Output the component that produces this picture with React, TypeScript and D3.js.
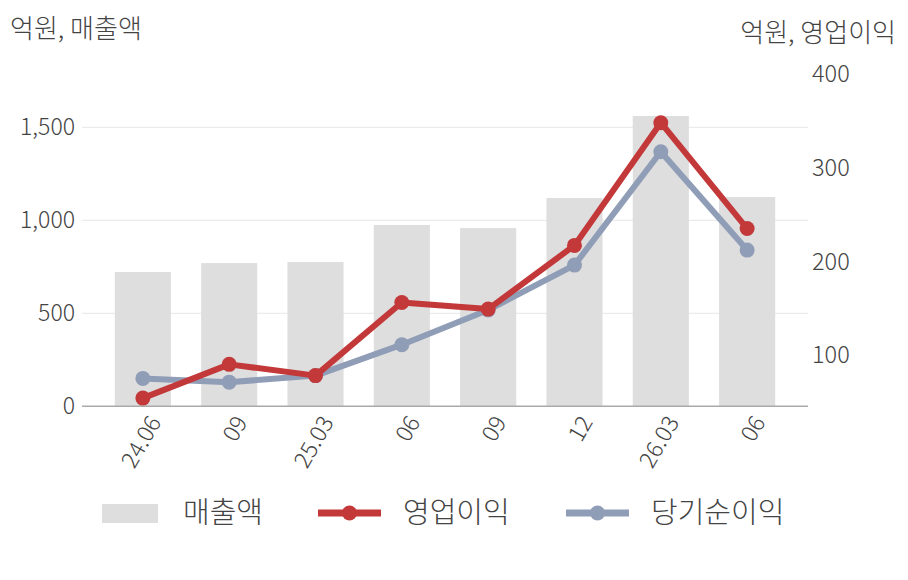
import React from 'react';
import * as d3 from 'd3';

const categories = ['24.06', '09', '25.03', '06', '09', '12', '26.03', '06'];
const sales = [722, 770, 776, 975, 958, 1120, 1561, 1125];
const operatingProfit = [54, 90, 78, 156, 149, 217, 348, 235];
const netProfit = [75, 71, 78, 111, 148, 196, 317, 212];
const leftTicks = [0, 500, 1000, 1500];
const rightTicks = [100, 200, 300, 400];

const FONT = "'Noto Sans CJK KR', 'Noto Sans', sans-serif";
const TEXT = '#444';
const RED = '#c3393a';
const BLUE = '#909db7';
const BAR = '#dedede';

export default function App() {
  const left = 82;
  const right = 808;

  const x = d3.scaleBand<number>()
    .domain(d3.range(categories.length))
    .range([left, right])
    .paddingInner(0.35)
    .paddingOuter(0.38);

  const yLeft = d3.scaleLinear().domain([0, 1500]).range([406.3, 127.3]);
  const yRight = d3.scaleLinear().domain([100, 400]).range([355, 74]);

  const cx = (i: number) => (x(i) ?? 0) + x.bandwidth() / 2;

  const line = d3.line<number>()
    .x((_, i) => cx(i))
    .y(d => yRight(d));

  const series = [
    { name: '당기순이익', values: netProfit, color: BLUE },
    { name: '영업이익', values: operatingProfit, color: RED }
  ];

  return (
    <svg width={908} height={580} style={{ position: 'absolute', left: 0, top: 0, fontFamily: FONT, fontWeight: 300 }}>
      {/* axis titles */}
      <text x={10} y={38} fontSize={26} fill={TEXT}>억원, 매출액</text>
      <text x={896} y={42} fontSize={26} fill={TEXT} textAnchor="end">억원, 영업이익</text>

      {/* gridlines */}
      {leftTicks.filter(t => t > 0).map(t => (
        <line key={t} x1={left} x2={right} y1={yLeft(t)} y2={yLeft(t)} stroke="#e6e6e6" strokeWidth={1} />
      ))}

      {/* left ticks */}
      {leftTicks.map(t => (
        <text key={t} x={75} y={yLeft(t)} dy="0.35em" fontSize={23} fill={TEXT} textAnchor="end">
          {d3.format(',')(t)}
        </text>
      ))}

      {/* right ticks */}
      {rightTicks.map(t => (
        <text key={t} x={812} y={yRight(t)} dy="0.35em" fontSize={23.5} fill={TEXT}>
          {t}
        </text>
      ))}

      {/* bars */}
      {sales.map((v, i) => (
        <rect key={i} x={x(i)} y={yLeft(v)} width={x.bandwidth()} height={yLeft(0) - yLeft(v)} fill={BAR} />
      ))}

      {/* baseline */}
      <line x1={left} x2={right} y1={yLeft(0)} y2={yLeft(0)} stroke="#aaa" strokeWidth={1.5} />

      {/* lines */}
      {series.map(s => (
        <g key={s.name}>
          <path d={line(s.values) ?? ''} fill="none" stroke={s.color} strokeWidth={6} strokeLinejoin="round" />
          {s.values.map((v, i) => (
            <circle key={i} cx={cx(i)} cy={yRight(v)} r={7.5} fill={s.color} />
          ))}
        </g>
      ))}

      {/* x labels */}
      {categories.map((c, i) => (
        <text
          key={i}
          transform={`translate(${cx(i) + 12},${418}) rotate(-60)`}
          dy="0.35em"
          fontSize={23}
          fill={TEXT}
          textAnchor="end"
        >
          {c}
        </text>
      ))}

      {/* legend */}
      <rect x={102} y={504} width={56} height={19} fill={BAR} />
      <text x={183} y={513} dy="0.35em" fontSize={29} fill={TEXT}>매출액</text>

      <line x1={318} x2={381} y1={513} y2={513} stroke={RED} strokeWidth={7} />
      <circle cx={349.5} cy={513} r={7.5} fill={RED} />
      <text x={403} y={513} dy="0.35em" fontSize={29} fill={TEXT}>영업이익</text>

      <line x1={566} x2={629} y1={513} y2={513} stroke={BLUE} strokeWidth={7} />
      <circle cx={597.5} cy={513} r={7.5} fill={BLUE} />
      <text x={651} y={513} dy="0.35em" fontSize={29} fill={TEXT}>당기순이익</text>
    </svg>
  );
}
